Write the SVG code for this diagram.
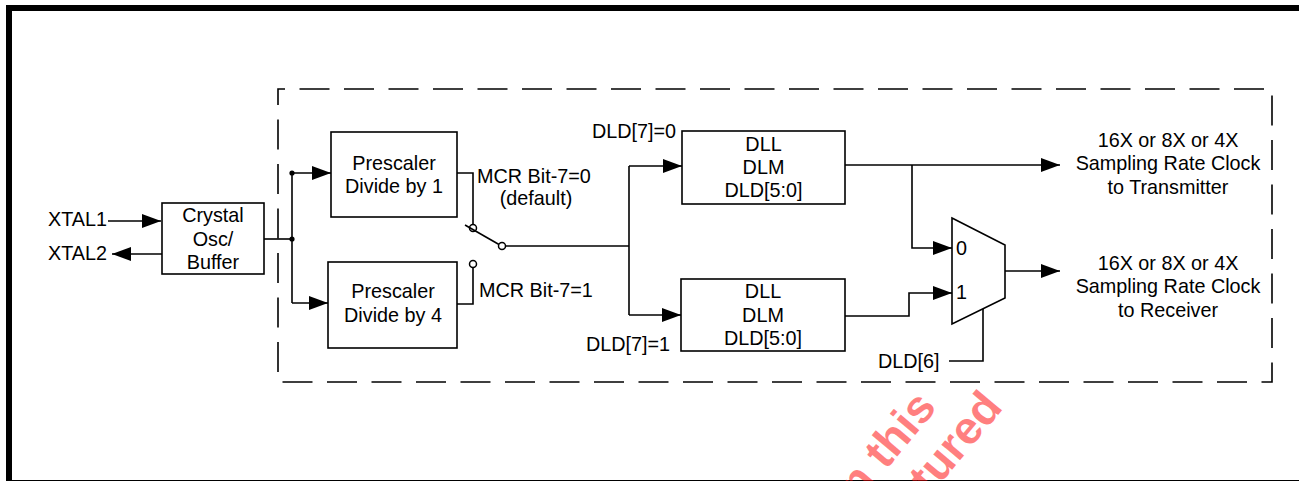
<svg xmlns="http://www.w3.org/2000/svg" width="1299" height="481" viewBox="0 0 1299 481">
<style>
text{font-family:"Liberation Sans",Arial,sans-serif;font-size:19.8px;fill:#000}
.c{text-anchor:middle}
.box{fill:#fff;stroke:#000;stroke-width:1.6}
.w{fill:none;stroke:#000;stroke-width:1.6}
.a{fill:none;stroke:#000;stroke-width:1.6;marker-end:url(#ah)}
.wm{font-family:"Liberation Sans",Arial,sans-serif;font-weight:bold;font-size:46px;fill:#ff0000;fill-opacity:0.5}
</style>
<defs>
<marker id="ah" markerUnits="userSpaceOnUse" markerWidth="20" markerHeight="14" refX="19" refY="7" orient="auto">
<path d="M0,0 L19,7 L0,14 z" fill="#000"/>
</marker>
</defs>
<rect width="1299" height="481" fill="#fff"/>
<path d="M9,481 V8 H1299" fill="none" stroke="#000" stroke-width="6"/>
<line x1="12" y1="480.5" x2="1299" y2="480.5" stroke="#000" stroke-width="1"/>
<rect x="278" y="89" width="994" height="293" fill="none" stroke="#000" stroke-width="1.6" stroke-dasharray="30 14.5" stroke-dashoffset="23"/>

<g id="xtal1"><text x="48" y="226">XTAL1</text></g>
<g id="xtal2"><text x="48" y="260">XTAL2</text></g>
<g id="crystal">
<rect class="box" x="162" y="203" width="102" height="71"/>
<text class="c" x="213" y="222">Crystal</text>
<text class="c" x="213" y="246">Osc/</text>
<text class="c" x="213" y="269">Buffer</text>
</g>
<g id="prescaler1">
<rect class="box" x="331" y="132" width="126" height="85"/>
<text class="c" x="394" y="170">Prescaler</text>
<text class="c" x="394" y="193">Divide by 1</text>
</g>
<g id="prescaler4">
<rect class="box" x="328" y="262" width="129" height="86"/>
<text class="c" x="393" y="298">Prescaler</text>
<text class="c" x="393" y="322">Divide by 4</text>
</g>
<g id="switch">
<text x="477" y="183">MCR Bit-7=0</text>
<text class="c" x="536" y="205">(default)</text>
<text x="479" y="297">MCR Bit-7=1</text>
</g>
<g id="dll-top">
<rect class="box" x="682" y="131" width="163" height="73"/>
<text class="c" x="763.5" y="151">DLL</text>
<text class="c" x="763.5" y="174">DLM</text>
<text class="c" x="763.5" y="197">DLD[5:0]</text>
</g>
<g id="dll-bottom">
<rect class="box" x="681" y="279" width="164" height="72"/>
<text class="c" x="763" y="298">DLL</text>
<text class="c" x="763" y="322">DLM</text>
<text class="c" x="763" y="345">DLD[5:0]</text>
</g>
<g id="mux">
<path class="box" d="M952,218 L1005,245 L1005,298 L952,324 Z"/>
<text x="956" y="255">0</text>
<text x="956" y="299">1</text>
</g>
<g id="labels">
<text x="592" y="138">DLD[7]=0</text>
<text x="586" y="351">DLD[7]=1</text>
<text x="878" y="368">DLD[6]</text>
</g>
<g id="out-tx">
<text class="c" x="1168" y="147">16X or 8X or 4X</text>
<text class="c" x="1168" y="170">Sampling Rate Clock</text>
<text class="c" x="1168" y="194">to Transmitter</text>
</g>
<g id="out-rx">
<text class="c" x="1168" y="270">16X or 8X or 4X</text>
<text class="c" x="1168" y="293">Sampling Rate Clock</text>
<text class="c" x="1168" y="317">to Receiver</text>
</g>

<g id="connectors">
<path class="a" d="M108,221 H161"/>
<path class="a" d="M162,254 H112"/>
<path class="w" d="M264,239 H292"/>
<path class="w" d="M292,173 V303"/>
<circle cx="292" cy="173" r="2.6" fill="#000"/>
<circle cx="292" cy="239" r="2.6" fill="#000"/>
<path class="a" d="M292,173 H331"/>
<path class="a" d="M292,303 H328"/>
<path class="w" d="M457,173 H473 V224.5"/>
<path class="w" d="M457,304 H473 V267.5"/>
<circle cx="473" cy="228" r="3.5" fill="#fff" stroke="#000" stroke-width="1.5"/>
<circle cx="473" cy="264" r="3.5" fill="#fff" stroke="#000" stroke-width="1.5"/>
<path class="w" d="M465,225 L499,244.5"/>
<circle cx="502" cy="246" r="3.5" fill="#fff" stroke="#000" stroke-width="1.5"/>
<path class="w" d="M505.5,246 H629"/>
<path class="w" d="M629,166 V315"/>
<path class="a" d="M629,166 H682"/>
<path class="a" d="M629,315 H681"/>
<path class="a" d="M845,165 H1060"/>
<path class="a" d="M912,165 V248 H952"/>
<path class="a" d="M845,316 H909 V293 H952"/>
<path class="a" d="M1005,271 H1060"/>
<path class="w" d="M949,361 H983 V309"/>
</g>
<g id="watermark">
<text class="wm" transform="translate(938,408) rotate(-50)" text-anchor="end">n this</text>
<text class="wm" transform="translate(1004,408) rotate(-50)" text-anchor="end">tured</text>
</g>
</svg>
